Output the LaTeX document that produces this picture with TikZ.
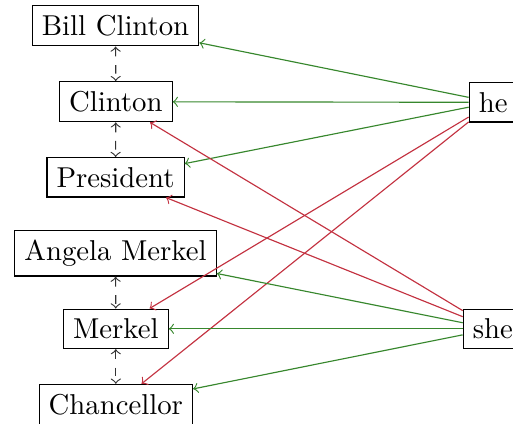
\documentclass[tikz,border=0pt]{standalone}
\definecolor{linkgreen}{RGB}{55,135,45}
\definecolor{linkred}{RGB}{195,50,65}
\begin{document}
\begin{tikzpicture}[
  ent/.style={draw, rectangle, font=\normalsize},
  coref/.style={<->, dashed, black!80},
  gl/.style={->, linkgreen},
  rl/.style={->, linkred}
]
\useasboundingbox (0pt,0pt) rectangle (178.5pt,-147.5pt);
\node[ent] (bc) at (40.2pt,-9.0pt) {Bill Clinton};
\node[ent] (c) at (40.3pt,-35.4pt) {Clinton};
\node[ent] (p) at (40.2pt,-61.7pt) {President};
\node[ent] (am) at (40.2pt,-88.1pt) {Angela Merkel};
\node[ent] (m) at (40.3pt,-114.4pt) {Merkel};
\node[ent] (ch) at (40.3pt,-140.7pt) {Chancellor};
\node[ent] (he) at (171.6pt,-35.6pt) {he};
\node[ent] (she) at (171.5pt,-114.4pt) {she};

\draw[coref] (bc) -- (c);
\draw[coref] (c) -- (p);
\draw[coref] (am) -- (m);
\draw[coref] (m) -- (ch);

\draw[gl] (he) -- (bc);
\draw[gl] (he) -- (c);
\draw[gl] (he) -- (p);
\draw[rl] (he) -- (m);
\draw[rl] (he) -- (ch);

\draw[gl] (she) -- (am);
\draw[gl] (she) -- (m);
\draw[gl] (she) -- (ch);
\draw[rl] (she) -- (c);
\draw[rl] (she) -- (p);
\end{tikzpicture}
\end{document}
